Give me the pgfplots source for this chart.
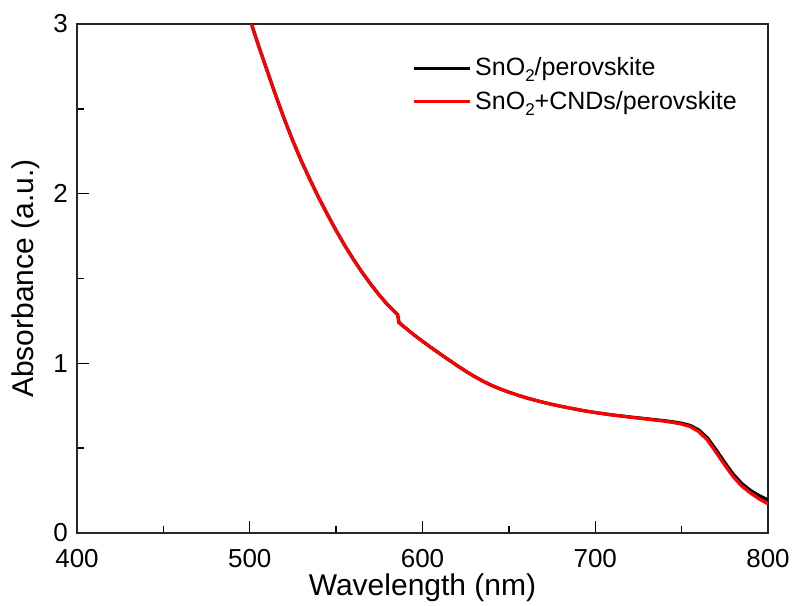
\documentclass[border=0pt]{standalone}
\usepackage{pgfplots}
\pgfplotsset{compat=1.18}
\usepackage{fontspec}
\setmainfont{Liberation Sans}
\newcommand\sub[1]{\raisebox{-0.45ex}{\fontsize{8.5}{9}\selectfont #1}}
\begin{document}
\begin{tikzpicture}
\begin{axis}[
  scale only axis, width=345.5pt, height=254.5pt,
  xmin=400, xmax=800, ymin=0, ymax=3,
  xtick={400,500,600,700,800}, ytick={0,1,2,3},
  minor x tick num=1, minor y tick num=1,
  xtick pos=bottom, ytick pos=left,
  tick align=inside,
  major tick length=6pt, minor tick length=3.5pt,
  every tick/.style={black, line width=0.7pt},
  axis line style={line width=0.7pt, black!85},
  /pgf/number format/assume math mode=true,
  ticklabel style={font=\fontsize{13}{15}\selectfont},
  xticklabel style={yshift=-4.5pt},
  yticklabel style={xshift=-1pt},
  xlabel={Wavelength (nm)}, ylabel={Absorbance (a.u.)},
  label style={font=\fontsize{15}{17}\selectfont},
  xlabel style={yshift=3.5pt},
  legend style={draw=none, fill=none, at={(0.97,0.95)}, anchor=north east,
    font=\fontsize{12.5}{14}\selectfont, row sep=2pt},
  legend cell align=left,
  legend image code/.code={\draw[#1] (0pt,0pt) -- (28pt,0pt);},
  clip=true,
]
\addplot[black, line width=1.6pt] coordinates {
(501,3.00) (505,2.875) (510,2.727) (515,2.580) (520,2.440) (525,2.31) (530,2.19) (535,2.08)
(540,1.975) (545,1.877) (550,1.783) (555,1.695) (560,1.613) (565,1.537) (570,1.467) (575,1.402)
(580,1.343) (585,1.292) (585.6,1.287) (586.4,1.24) (590,1.21) (595,1.168) (600,1.13) (605,1.093)
(610,1.057) (615,1.022) (620,0.987) (625,0.954) (630,0.923) (635,0.895) (640,0.870) (645,0.849)
(650,0.830) (655,0.813) (660,0.797) (665,0.783) (670,0.770) (675,0.758) (680,0.747) (685,0.737)
(690,0.727) (695,0.718) (700,0.710) (710,0.696) (720,0.684) (730,0.673) (740,0.662) (745,0.655)
(750,0.647) (755,0.634) (760,0.607) (765,0.56) (770,0.49) (775,0.415) (780,0.345) (785,0.29)
(790,0.25) (795,0.22) (800,0.195)
};
\addlegendentry{SnO\sub{2}/perovskite}
\addplot[red, line width=1.6pt] coordinates {
(501,3.00) (505,2.875) (510,2.727) (515,2.580) (520,2.440) (525,2.31) (530,2.19) (535,2.08)
(540,1.975) (545,1.877) (550,1.783) (555,1.695) (560,1.613) (565,1.537) (570,1.467) (575,1.402)
(580,1.343) (585,1.292) (585.6,1.287) (586.4,1.24) (590,1.21) (595,1.168) (600,1.13) (605,1.093)
(610,1.057) (615,1.022) (620,0.987) (625,0.954) (630,0.923) (635,0.895) (640,0.870) (645,0.849)
(650,0.830) (655,0.813) (660,0.797) (665,0.783) (670,0.770) (675,0.758) (680,0.747) (685,0.737)
(690,0.727) (695,0.718) (700,0.710) (710,0.695) (720,0.683) (730,0.671) (740,0.659) (745,0.651)
(750,0.642) (755,0.627) (760,0.597) (765,0.547) (770,0.475) (775,0.40) (780,0.33) (785,0.275)
(790,0.235) (795,0.20) (800,0.172)
};
\addlegendentry{SnO\sub{2}+CNDs/perovskite}
\end{axis}
\pgfresetboundingbox
\path (-38.5pt,-36.5pt) rectangle (358.5pt,266.5pt);
\end{tikzpicture}
\end{document}
